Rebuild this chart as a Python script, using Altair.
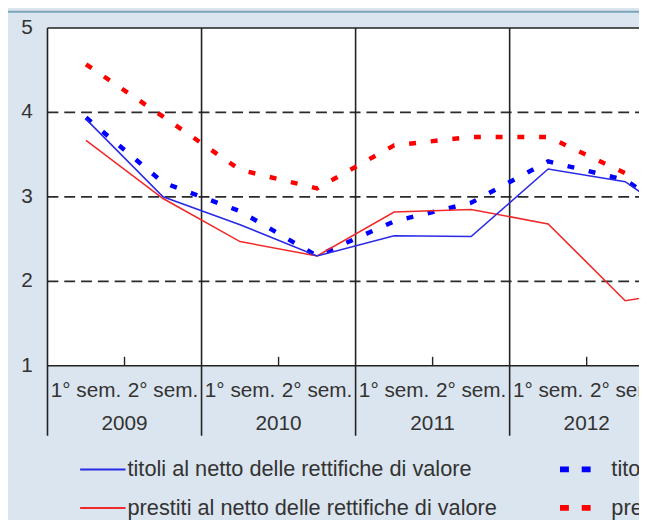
import altair as alt
import pandas as pd

# ---- data ----
sem_labels = ["1° sem.", "2° sem."] * 5
years = ["2009", "2010", "2011", "2012", "2013"]
titoli_netto = [3.92, 3.00, 2.67, 2.30, 2.54, 2.53, 3.33, 3.18, 2.55]
prestiti_netto = [3.67, 2.98, 2.47, 2.30, 2.82, 2.85, 2.68, 1.77, 1.92]
titoli_lordo = [3.94, 3.17, 2.83, 2.30, 2.71, 2.93, 3.42, 3.20, 2.60]
prestiti_lordo = [4.57, 3.95, 3.32, 3.10, 3.61, 3.71, 3.71, 3.28, 3.12]
y_ticks = [1, 2, 3, 4, 5]
grid_vals = [2, 3, 4]
legend_labels = [
    "titoli al netto delle rettifiche di valore",
    "prestiti al netto delle rettifiche di valore",
    "titoli al lordo delle rettifiche di valore",
    "prestiti al lordo delle rettifiche di valore",
]

W, H = 599, 342
SEM = 78.0  # pixels per semester
FONT = "Liberation Sans"
TXT = "#333333"
BLUE, RED = "#2a2ae6", "#f02a2a"
BLUE_D, RED_D = "#0000ff", "#ff0000"

xscale = alt.Scale(domain=[0, W / SEM], nice=False, zero=False)
yscale = alt.Scale(domain=[1, 5], nice=False, zero=False)


def X(field="x"):
    return alt.X(f"{field}:Q", scale=xscale, axis=None)


def Y():
    return alt.Y("y:Q", scale=yscale, axis=None)


def series_df(vals):
    return pd.DataFrame({"x": [i + 0.5 for i in range(len(vals))], "y": vals})


ylabels = alt.Chart(pd.DataFrame({"y": y_ticks, "label": [str(v) for v in y_ticks]})).mark_text(
    fontSize=21, font=FONT, color=TXT, align="right", baseline="middle"
).encode(y=Y(), x=alt.value(-15), text="label:N")

grid = alt.Chart(pd.DataFrame({"y": grid_vals})).mark_rule(
    strokeDash=[11, 6], color="#2b2b2b", strokeWidth=1.8
).encode(y=Y(), x=alt.value(0), x2=alt.value(W))

hframe = alt.Chart(pd.DataFrame({"y": [1, 5]})).mark_rule(
    color="#222222", strokeWidth=1.6
).encode(y=Y(), x=alt.value(0), x2=alt.value(W))

vlines = alt.Chart(pd.DataFrame({"x": [0, 2, 4, 6, 8]})).mark_rule(
    color="#222222", strokeWidth=1.6
).encode(x=X(), y=alt.value(0), y2=alt.value(413))

ticks = alt.Chart(pd.DataFrame({"x": [1, 3, 5, 7, 9]})).mark_rule(
    color="#222222", strokeWidth=1.4
).encode(x=X(), y=alt.value(H - 9), y2=alt.value(H))


def line(vals, color, dash=None, width=1.6):
    kw = dict(color=color, strokeWidth=width, clip=True)
    if dash:
        kw["strokeDash"] = dash
        kw["strokeCap"] = "butt"
    return alt.Chart(series_df(vals)).mark_line(**kw).encode(x=X(), y=Y())


l_pl = line(prestiti_lordo, RED_D, [7, 15], 4.5)
l_tl = line(titoli_lordo, BLUE_D, [7, 15], 4.5)
l_pn = line(prestiti_netto, RED)
l_tn = line(titoli_netto, BLUE)

sem_df = pd.DataFrame({"x": [i + 0.5 for i in range(len(sem_labels))], "label": sem_labels})
sem_text = alt.Chart(sem_df).mark_text(
    fontSize=21, font=FONT, color=TXT, align="center", baseline="middle"
).encode(x=X(), y=alt.value(368), text="label:N")

year_df = pd.DataFrame({"x": [2 * i + 1 for i in range(len(years))], "label": years})
year_text = alt.Chart(year_df).mark_text(
    fontSize=21, font=FONT, color=TXT, align="center", baseline="middle"
).encode(x=X(), y=alt.value(401), text="label:N")

topline = alt.Chart(pd.DataFrame({"k": [0]})).mark_rule(color="#7aa6b6", strokeWidth=2).encode(
    x=alt.value(-40), x2=alt.value(W), y=alt.value(-16.5))

# ---- legend ----
leg_rows = [447, 486]
leg_layers = []
for row, (lab, col) in enumerate([(legend_labels[0], BLUE), (legend_labels[1], RED)]):
    leg_layers.append(alt.Chart(pd.DataFrame({"k": [0]})).mark_rule(color=col, strokeWidth=2).encode(
        x=alt.value(33), x2=alt.value(79), y=alt.value(leg_rows[row])))
    leg_layers.append(alt.Chart(pd.DataFrame({"k": [0]})).mark_text(
        fontSize=22, font=FONT, color=TXT, align="left", baseline="middle").encode(
        x=alt.value(81), y=alt.value(leg_rows[row]), text=alt.value(lab)))
for row, (lab, col) in enumerate([(legend_labels[2], BLUE_D), (legend_labels[3], RED_D)]):
    leg_layers.append(alt.Chart(pd.DataFrame({"k": [0]})).mark_rule(
        color=col, strokeWidth=6, strokeDash=[9, 13], strokeCap="butt").encode(
        x=alt.value(519), x2=alt.value(553), y=alt.value(leg_rows[row])))
    leg_layers.append(alt.Chart(pd.DataFrame({"k": [0]})).mark_text(
        fontSize=22, font=FONT, color=TXT, align="left", baseline="middle").encode(
        x=alt.value(571), y=alt.value(leg_rows[row]), text=alt.value(lab)))

chart = alt.layer(
    grid, hframe, vlines, ticks, l_pl, l_tl, l_pn, l_tn, ylabels, sem_text, year_text, topline,
    *leg_layers
).properties(
    width=W, height=H,
    padding={"left": 40, "top": 17, "right": 0, "bottom": 153},
    autosize=alt.AutoSizeParams(type="none"),
    background="#dbe5ef",
).configure_view(stroke=None, fill="white")

chart.save("out.html", embed_options={"renderer": "svg", "actions": False})
